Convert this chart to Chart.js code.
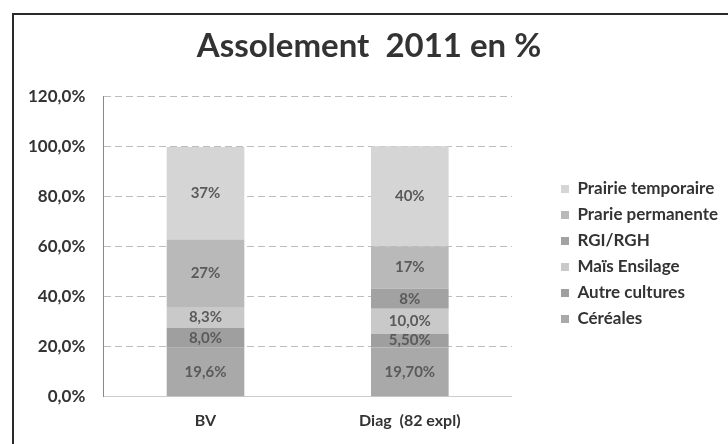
<!DOCTYPE html>
<html>
<head>
<meta charset="utf-8">
<script src="https://cdn.jsdelivr.net/npm/chart.js@4/dist/chart.umd.min.js"></script>
<style>
  html, body { margin: 0; padding: 0; background: #fff; overflow: hidden; }
  #wrap { position: relative; width: 728px; height: 444px; }
  #frame { position: absolute; left: 12px; top: 13px; width: 730px; height: 450px;
           border: 2px solid #2a2a2a; pointer-events: none; }
</style>
</head>
<body>
<div id="wrap">
  <canvas id="chart" width="728" height="444"></canvas>
  <div id="frame"></div>
</div>
<script>
"use strict";

// categories and series (bottom to top of the stack)
const categories = ['BV', 'Diag  (82 expl)'];
const cereales = [19.6, 19.7];
const autres = [8.0, 5.5];
const mais = [8.3, 10.0];
const rgi = [0, 8];
const prairiePerm = [27, 17];
const prairieTemp = [37, 40];

// value labels as printed on the bars
const cerealesLbl = ['19,6%', '19,70%'];
const autresLbl = ['8,0%', '5,50%'];
const maisLbl = ['8,3%', '10,0%'];
const rgiLbl = ['', '8%'];
const prairiePermLbl = ['27%', '17%'];
const prairieTempLbl = ['37%', '40%'];

const yTickLabels = ['0,0%', '20,0%', '40,0%', '60,0%', '80,0%', '100,0%', '120,0%'];

const FONT = 'Lato, "Open Sans", sans-serif';
const LEGEND_GAP = 40;
const LEGEND_DROP = 36;

// draws the percent text inside each segment
const segLabels = {
    id: 'segLabels',
    afterDatasetsDraw(chart) {
        const ctx = chart.ctx;
        ctx.save();
        ctx.font = 'bold 15px ' + FONT;
        ctx.fillStyle = '#5a5a5a';
        ctx.textAlign = 'center';
        ctx.textBaseline = 'middle';
        chart.data.datasets.forEach(function (ds, i) {
            const meta = chart.getDatasetMeta(i);
            meta.data.forEach(function (bar, j) {
                const txt = ds.valueLabels[j];
                if (!txt) return;
                ctx.fillText(txt, bar.x, (bar.y + bar.base) / 2);
            });
        });
        ctx.restore();
    }
};

// leave a wider gap between the plot and the legend, and drop the legend a bit
const legendShift = {
    id: 'legendShift',
    beforeInit(chart) {
        const orig = chart.legend.fit;
        chart.legend.fit = function () {
            orig.call(this);
            this.width += LEGEND_GAP;
        };
    },
    afterLayout(chart) {
        const lg = chart.legend;
        lg.left += LEGEND_GAP;
        lg.right += LEGEND_GAP;
        lg.top += LEGEND_DROP;
        lg.bottom += LEGEND_DROP;
    }
};

function makeSet(label, data, lbls, color) {
    return {
        label: label,
        data: data,
        valueLabels: lbls,
        backgroundColor: color,
        borderWidth: 0,
        barPercentage: 0.38,
        categoryPercentage: 1
    };
}

new Chart(document.getElementById('chart'), {
    type: 'bar',
    data: {
        labels: categories,
        datasets: [
            makeSet('Céréales', cereales, cerealesLbl, '#a9a9a9'),
            makeSet('Autre cultures', autres, autresLbl, '#9f9f9f'),
            makeSet('Maïs Ensilage', mais, maisLbl, '#c9c9c9'),
            makeSet('RGI/RGH', rgi, rgiLbl, '#a2a2a2'),
            makeSet('Prarie permanente', prairiePerm, prairiePermLbl, '#b9b9b9'),
            makeSet('Prairie temporaire', prairieTemp, prairieTempLbl, '#d5d5d5')
        ]
    },
    options: {
        responsive: false,
        animation: false,
        layout: { padding: { left: 10, right: 0, top: 0, bottom: 8 } },
        plugins: {
            title: {
                display: true,
                text: 'Assolement  2011 en %',
                color: '#333',
                font: { family: FONT, size: 33, weight: 'bold' },
                padding: { top: 27, bottom: 30 }
            },
            legend: {
                position: 'right',
                reverse: true,
                labels: {
                    boxWidth: 8,
                    boxHeight: 8,
                    padding: 9,
                    color: '#333',
                    font: { family: FONT, size: 17, weight: 'bold' }
                }
            },
            tooltip: { enabled: false }
        },
        scales: {
            x: {
                stacked: true,
                grid: { display: false },
                border: { color: '#ccc' },
                ticks: {
                    color: '#333',
                    padding: 6,
                    font: { family: FONT, size: 16, weight: 'bold' }
                }
            },
            y: {
                stacked: true,
                min: 0,
                max: 120,
                border: { color: '#888', width: 1, dash: [7, 4] },
                grid: {
                    color: '#bdbdbd',
                    drawTicks: false
                },
                ticks: {
                    stepSize: 20,
                    padding: 18,
                    color: '#333',
                    font: { family: FONT, size: 17, weight: 'bold' },
                    callback: function (v) { return yTickLabels[Math.round(v / 20)]; }
                }
            }
        }
    },
    plugins: [segLabels, legendShift]
});
</script>
</body>
</html>
